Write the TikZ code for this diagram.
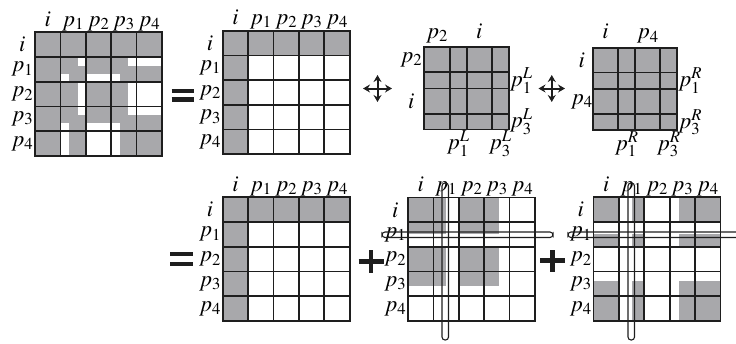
\documentclass[tikz,border=0pt]{standalone}
\usepackage{mathptmx}
\usetikzlibrary{arrows.meta}
\definecolor{cellgray}{HTML}{A8A8AB}
\definecolor{inkline}{HTML}{1E1E1E}
\tikzset{
  gridline/.style={draw=inkline,line width=1.7pt},
  lbl/.style={font=\fontsize{22.5}{26}\selectfont,inner sep=1pt},
  capsule/.style={draw=inkline,line width=1.1pt,rounded corners=3pt},
  opsign/.style={draw=inkline,line width=4.5pt},
  exchange/.style={draw=inkline,line width=2pt,{Stealth[length=7pt,width=8pt]}-{Stealth[length=7pt,width=8pt]}},
}
\newcommand\bigmatrix[1]{%
  \draw[gridline] (0,0) rectangle (5,5);
  \foreach \k in {1,...,4}{\draw[gridline] (\k,0)--(\k,5);\draw[gridline] (0,\k)--(5,\k);}
  \foreach \k/\t in {0/i,1/p_1,2/p_2,3/p_3,4/p_4}{
    \node[lbl,anchor=base] (#1c\k) at (\k+.5,-.25) {$\t$};
    \node[lbl] (#1r\k) at (-.5,\k+.5) {$\t$};}}

\begin{document}
\begin{tikzpicture}[x=1pt,y=-1pt]
\useasboundingbox (0,0) rectangle (736,343);

\begin{scope}[shift={(35pt,-32.3pt)},x=25.4pt,y=-24.7pt]
\fill[cellgray] (0,0) rectangle (5,1) (0,0) rectangle (1,5);
\foreach \a/\b in {0/1.68,2/3.68}{\foreach \c/\d in {0/1.68,2/3.68}{\fill[cellgray] (\a,\c) rectangle (\b,\d);}}
\foreach \a/\b in {0/1,1.35/2,3.35/5}{\foreach \c/\d in {0/1,1.35/2,3.35/5}{\fill[cellgray] (\a,\c) rectangle (\b,\d);}}
\bigmatrix{m1}
\end{scope}

\begin{scope}[shift={(222.7pt,-30.7pt)},x=25.4pt,y=-24.7pt]
\fill[cellgray] (0,0) rectangle (5,1) (0,0) rectangle (1,5);
\bigmatrix{m2}
\end{scope}

\begin{scope}[shift={(424.3pt,-47.3pt)}]
\fill[cellgray] (0,0) rectangle (84.5,82.3);
\draw[gridline] (0,0) rectangle (84.5,82.3);
\foreach \x in {25.5,42.5,67.5}{\draw[gridline] (\x,0)--(\x,82.3);}
\foreach \y in {24.7,41.2,66.5}{\draw[gridline] (0,\y)--(84.5,\y);}
\node[lbl,anchor=base] (m3c0) at (12.75,-9) {$p_2$};
\node[lbl,anchor=base] (m3c2) at (55,-9) {$i$};
\node[lbl] (m3r0) at (-13,12.35) {$p_2$};
\node[lbl] (m3r2) at (-13,53.85) {$i$};
\node[lbl,anchor=west] (m3r1) at (84.5,32.95) {$p_1^L$};
\node[lbl,anchor=west] (m3r3) at (84.5,74.4) {$p_3^L$};
\node[lbl,anchor=north] (m3c1) at (34,82.3) {$p_1^L$};
\node[lbl,anchor=north] (m3c3) at (76,82.3) {$p_3^L$};
\end{scope}

\begin{scope}[shift={(592.7pt,-47.7pt)}]
\fill[cellgray] (0,0) rectangle (84.5,82.3);
\draw[gridline] (0,0) rectangle (84.5,82.3);
\foreach \x in {25.5,42.5,67.5}{\draw[gridline] (\x,0)--(\x,82.3);}
\foreach \y in {24.7,41.2,66.5}{\draw[gridline] (0,\y)--(84.5,\y);}
\node[lbl,anchor=base] (m4c0) at (12.75,-9) {$i$};
\node[lbl,anchor=base] (m4c2) at (55,-9) {$p_4$};
\node[lbl] (m4r0) at (-11,12.35) {$i$};
\node[lbl] (m4r2) at (-11,53.85) {$p_4$};
\node[lbl,anchor=west] (m4r1) at (84.5,32.95) {$p_1^R$};
\node[lbl,anchor=west] (m4r3) at (84.5,74.4) {$p_3^R$};
\node[lbl,anchor=north] (m4c1) at (34,82.3) {$p_1^R$};
\node[lbl,anchor=north] (m4c3) at (76,82.3) {$p_3^R$};
\end{scope}

\begin{scope}[shift={(222.7pt,-197.3pt)},x=25.4pt,y=-24.7pt]
\fill[cellgray] (0,0) rectangle (5,1) (0,0) rectangle (1,5);
\bigmatrix{m5}
\end{scope}

\begin{scope}[shift={(408pt,-197.5pt)},x=25.4pt,y=-24.7pt]
\foreach \a/\b in {0/1.48,2/3.58}{\foreach \c/\d in {0/1.48,2/3.58}{\fill[cellgray] (\a,\c) rectangle (\b,\d);}}
\bigmatrix{m6}
\end{scope}

\begin{scope}[shift={(593.5pt,-197.3pt)},x=25.4pt,y=-24.7pt]
\foreach \a/\b in {0/1,1.5/2,3.37/5}{\foreach \c/\d in {0/1,1.5/2,3.37/5}{\fill[cellgray] (\a,\c) rectangle (\b,\d);}}
\bigmatrix{m7}
\end{scope}

\draw[capsule] (442,183) rectangle (448.5,340);
\draw[capsule] (382,232) rectangle (553,237.5);
\draw[capsule] (628,183) rectangle (634.5,340);
\draw[capsule] (568,232) rectangle (745,237.5);

\draw[opsign] (171.5,90.8)--(193.5,90.8) (171.5,99.5)--(193.5,99.5);
\draw[opsign] (170,254)--(193,254) (170,264)--(193,264);
\draw[opsign] (358.5,261.5)--(383.5,261.5) (371,250)--(371,273);
\draw[opsign] (540,260.5)--(565,260.5) (552.5,250)--(552.5,272);

\draw[exchange] (363,88.5)--(392,88.5); \draw[exchange] (377.5,75)--(377.5,102);
\draw[exchange] (538.5,88.5)--(565,88.5); \draw[exchange] (551.75,75)--(551.75,102);
\end{tikzpicture}
\end{document}
